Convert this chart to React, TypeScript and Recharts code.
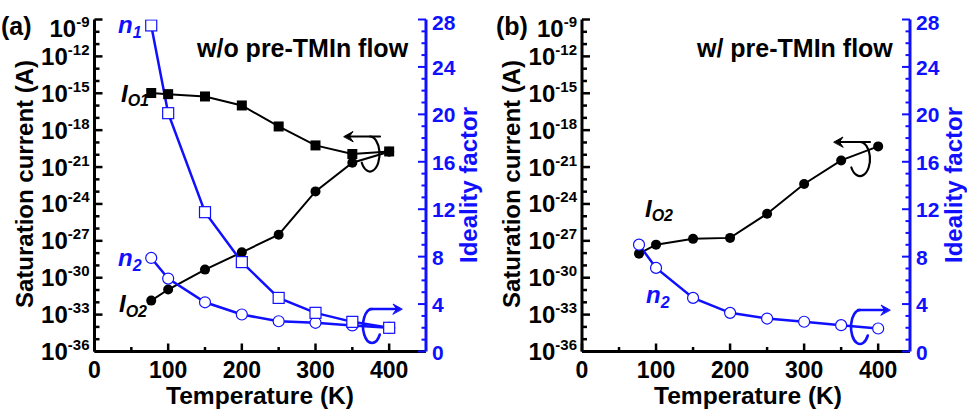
import React from 'react';
import { LineChart, Line, XAxis, YAxis } from 'recharts';

// ---- data (temperature in K) ----
const temperature = [77, 100, 150, 200, 250, 300, 350, 400];
// panel (a): w/o pre-TMIn flow
const io1A = [1.05e-15, 8.5e-16, 5.5e-16, 1.02e-16, 2.0e-18, 5.75e-20, 1.15e-20, 1.86e-20];
const io2A = [1.38e-32, 1.1e-31, 4.57e-30, 1.17e-28, 3.16e-27, 1.05e-23, 2.24e-21, 1.78e-20];
const n1A = [27.5, 20.1, 11.75, 7.54, 4.52, 3.26, 2.5, 2.0];
const n2A = [7.89, 6.15, 4.15, 3.12, 2.55, 2.42, 2.2, 2.0];
// panel (b): w/ pre-TMIn flow
const io2B = [9.1e-29, 4.9e-28, 1.45e-27, 1.74e-27, 1.62e-25, 4.17e-23, 3.47e-21, 4.79e-20];
const n2B = [9.01, 7.05, 4.52, 3.26, 2.78, 2.51, 2.22, 1.94];

// ---- ticks ----
const logTicks = [
  1e-36, 1e-35, 1e-34, 1e-33, 1e-32, 1e-31, 1e-30, 1e-29, 1e-28, 1e-27, 1e-26, 1e-25, 1e-24, 1e-23,
  1e-22, 1e-21, 1e-20, 1e-19, 1e-18, 1e-17, 1e-16, 1e-15, 1e-14, 1e-13, 1e-12, 1e-11, 1e-10, 1e-9,
];
const idealityTicks = [0, 1, 2, 3, 4, 5, 6, 7, 8, 9, 10, 11, 12, 13, 14, 15, 16, 17, 18, 19, 20, 21, 22, 23, 24, 25, 26, 27, 28];
const tempTicks = [0, 50, 100, 150, 200, 250, 300, 350, 400];

const BLUE = '#1010ff';
const FONT = '"Liberation Sans", Arial, Helvetica, sans-serif';

const dataA = temperature.map((t, i) => ({ t, io1: io1A[i], io2: io2A[i], n1: n1A[i], n2: n2A[i] }));
const dataB = temperature.map((t, i) => ({ t, io2: io2B[i], n2: n2B[i] }));

function LeftTick(props: any) {
  const { x, y, payload } = props;
  const e = Math.round(Math.log10(payload.value));
  const major = e % 3 === 0;
  const shift = e === -9 ? 9 : 0;
  return (
    <g>
      <line x1={x} x2={x + (major ? 8 : 5)} y1={y} y2={y} stroke="#000" strokeWidth={2.5} />
      {major && (
        <text x={x - 5} y={y + 8.5 + shift} textAnchor="end" fontFamily={FONT} fontWeight="bold" fill="#000">
          <tspan fontSize={24}>10</tspan>
          <tspan fontSize={15} dy={-10}>{String(e)}</tspan>
        </text>
      )}
    </g>
  );
}

function RightTick(props: any) {
  const { x, y, payload } = props;
  const v = payload.value;
  const major = v % 4 === 0;
  return (
    <g>
      <line x1={x} x2={x - (major ? 8 : 4.5)} y1={y} y2={y} stroke={BLUE} strokeWidth={2} />
      {major && (
        <text x={x + 6} y={y + 8 + (v === 28 ? 2 : 0)} textAnchor="start" fontFamily={FONT} fontWeight="bold" fontSize={21} fill={BLUE}>
          {v}
        </text>
      )}
    </g>
  );
}

function BottomTick(props: any) {
  const { x, y, payload } = props;
  const v = payload.value;
  const major = v % 100 === 0;
  return (
    <g>
      <line x1={x} x2={x} y1={y} y2={y - (major ? 8 : 4.5)} stroke="#000" strokeWidth={2.5} />
      {major && (
        <text x={x} y={y + 26} textAnchor="middle" fontFamily={FONT} fontWeight="bold" fontSize={23} fill="#000">
          {v}
        </text>
      )}
    </g>
  );
}

function TopTick(props: any) {
  const { x, y, payload } = props;
  const v = payload.value;
  const major = v % 100 === 0;
  return <line x1={x} x2={x} y1={y} y2={y + (major ? 8 : 4.5)} stroke="#000" strokeWidth={2.5} />;
}

const filledSquare = (p: any) => (
  <rect key={`fs-${p.index}`} x={p.cx - 5} y={p.cy - 5} width={10} height={10} fill="#000" />
);
const filledCircle = (p: any) => (
  <circle key={`fc-${p.index}`} cx={p.cx} cy={p.cy} r={5} fill="#000" />
);
const openSquare = (p: any) => (
  <rect key={`os-${p.index}`} x={p.cx - 5.5} y={p.cy - 5.5} width={11} height={11} fill="#fff" stroke={BLUE} strokeWidth={1.2} />
);
const openCircle = (p: any) => (
  <circle key={`oc-${p.index}`} cx={p.cx} cy={p.cy} r={5.5} fill="#fff" stroke={BLUE} strokeWidth={1.2} />
);

function loop(cx: number, cy: number, rx: number, ry: number, clockwise: boolean) {
  const endAng = clockwise ? (150 * Math.PI) / 180 : (30 * Math.PI) / 180;
  const ex = cx + rx * Math.cos(endAng);
  const ey = cy + ry * Math.sin(endAng);
  return `M ${cx} ${cy - ry} A ${rx} ${ry} 0 1 ${clockwise ? 1 : 0} ${ex} ${ey}`;
}

function LoopArrow({ cx, cy, rx, ry, dir, color, sw }: any) {
  const top = cy - ry;
  const clockwise = dir === 'left';
  const tipX = dir === 'left' ? cx - 26 : cx + 30;
  const startX = dir === 'left' ? cx + 10 : cx - 2;
  const back = dir === 'left' ? 9 : -9;
  return (
    <g fill="none" stroke={color} strokeWidth={sw} strokeLinecap="round">
      <path d={loop(cx, cy, rx, ry, clockwise)} />
      <line x1={startX} y1={top} x2={tipX + back * 0.4} y2={top} />
      <polygon points={`${tipX},${top} ${tipX + back},${top - 5} ${tipX + back * 0.6},${top} ${tipX + back},${top + 5}`} fill={color} stroke={color} strokeWidth={1} strokeLinejoin="round" />
    </g>
  );
}

const txt = { fontFamily: FONT, fontWeight: 'bold' as const };

function Overlay() {
  return (
    <svg width={967} height={420} style={{ position: 'absolute', left: 0, top: 0, pointerEvents: 'none' }}>
      {/* panel labels */}
      <text x={1} y={35} fontSize={25} {...txt}>(a)</text>
      <text x={496} y={35} fontSize={25} {...txt}>(b)</text>
      {/* axis titles */}
      <text x={260} y={404} fontSize={23} textAnchor="middle" textLength={188} lengthAdjust="spacingAndGlyphs" {...txt}>Temperature (K)</text>
      <text x={748} y={404} fontSize={23} textAnchor="middle" textLength={188} lengthAdjust="spacingAndGlyphs" {...txt}>Temperature (K)</text>
      <text transform="translate(33,184) rotate(-90)" fontSize={24} textAnchor="middle" {...txt}>Saturation current (A)</text>
      <text transform="translate(520,184) rotate(-90)" fontSize={24} textAnchor="middle" {...txt}>Saturation current (A)</text>
      <text transform="translate(477,185) rotate(-90)" fontSize={24} textAnchor="middle" fill={BLUE} {...txt}>Ideality factor</text>
      <text transform="translate(962,185) rotate(-90)" fontSize={24} textAnchor="middle" fill={BLUE} {...txt}>Ideality factor</text>
      {/* titles */}
      <text x={197} y={57} fontSize={25} {...txt}>w/o pre-TMIn flow</text>
      <text x={697} y={57} fontSize={25} {...txt}>w/ pre-TMIn flow</text>
      {/* series labels panel a */}
      <text x={118} y={33} fill={BLUE} fontStyle="italic" {...txt}>
        <tspan fontSize={24}>n</tspan><tspan fontSize={16} dy={5}>1</tspan>
      </text>
      <text x={121} y={102} fill="#000" fontStyle="italic" {...txt}>
        <tspan fontSize={24}>I</tspan><tspan fontSize={16} dy={4}>O1</tspan>
      </text>
      <text x={118} y={266} fill={BLUE} fontStyle="italic" {...txt}>
        <tspan fontSize={24}>n</tspan><tspan fontSize={16} dy={5}>2</tspan>
      </text>
      <text x={119} y={312} fill="#000" fontStyle="italic" {...txt}>
        <tspan fontSize={24}>I</tspan><tspan fontSize={16} dy={5}>O2</tspan>
      </text>
      {/* series labels panel b */}
      <text x={645} y={217} fill="#000" fontStyle="italic" {...txt}>
        <tspan fontSize={24}>I</tspan><tspan fontSize={16} dy={4}>O2</tspan>
      </text>
      <text x={646} y={303} fill={BLUE} fontStyle="italic" {...txt}>
        <tspan fontSize={24}>n</tspan><tspan fontSize={16} dy={5}>2</tspan>
      </text>
      {/* axis-pointing loop arrows */}
      <LoopArrow cx={370} cy={154} rx={9.5} ry={17.5} dir="left" color="#000" sw={2.2} />
      <LoopArrow cx={372} cy={326} rx={9} ry={17} dir="right" color={BLUE} sw={2.6} />
      <LoopArrow cx={860} cy={159} rx={10} ry={17} dir="left" color="#000" sw={2.2} />
      <LoopArrow cx={860} cy={327} rx={9} ry={17} dir="right" color={BLUE} sw={2.6} />
    </svg>
  );
}

function commonAxes(xMax: number, leftW: number, rightW: number) {
  return [
    <XAxis key="xb" dataKey="t" type="number" domain={[0, xMax]} ticks={tempTicks} interval={0} allowDataOverflow
      height={68.5} axisLine={{ stroke: '#000', strokeWidth: 3 }} tickLine={false} tickSize={0} tickMargin={0} tick={BottomTick} />,
    <XAxis key="xt" xAxisId="top" orientation="top" dataKey="t" type="number" domain={[0, xMax]} ticks={tempTicks} interval={0} allowDataOverflow
      height={0} axisLine={{ stroke: '#000', strokeWidth: 2.5 }} tickLine={false} tickSize={0} tickMargin={0} tick={TopTick} />,
    <YAxis key="yl" yAxisId="l" scale="log" type="number" domain={[1e-36, 1e-9]} ticks={logTicks} interval={0} allowDataOverflow
      width={leftW} axisLine={{ stroke: '#000', strokeWidth: 3 }} tickLine={false} tickSize={0} tickMargin={0} tick={LeftTick} />,
    <YAxis key="yr" yAxisId="r" orientation="right" type="number" domain={[0, 28]} ticks={idealityTicks} interval={0} allowDataOverflow
      width={rightW} axisLine={{ stroke: BLUE, strokeWidth: 3 }} tickLine={false} tickSize={0} tickMargin={0} tick={RightTick} />,
  ];
}

export default function App() {
  return (
    <div style={{ position: 'absolute', left: 0, top: 0, width: 967, height: 420, background: '#fff', overflow: 'hidden' }}>
      <div style={{ position: 'absolute', left: 0, top: 0 }}>
        <LineChart width={483} height={420} data={dataA} margin={{ top: 19.5, right: 0, bottom: 0, left: 0 }}>
          {commonAxes(450, 94.5, 57)}
          <Line yAxisId="l" dataKey="io2" stroke="#000" strokeWidth={2} dot={filledCircle} activeDot={false} isAnimationActive={false} />
          <Line yAxisId="l" dataKey="io1" stroke="#000" strokeWidth={2} dot={filledSquare} activeDot={false} isAnimationActive={false} />
          <Line yAxisId="r" dataKey="n2" stroke={BLUE} strokeWidth={2.5} dot={openCircle} activeDot={false} isAnimationActive={false} />
          <Line yAxisId="r" dataKey="n1" stroke={BLUE} strokeWidth={2.5} dot={openSquare} activeDot={false} isAnimationActive={false} />
        </LineChart>
      </div>
      <div style={{ position: 'absolute', left: 483, top: 0 }}>
        <LineChart width={484} height={420} data={dataB} margin={{ top: 19.5, right: 0, bottom: 0, left: 0 }}>
          {commonAxes(443, 99, 57)}
          <Line yAxisId="l" dataKey="io2" stroke="#000" strokeWidth={2} dot={filledCircle} activeDot={false} isAnimationActive={false} />
          <Line yAxisId="r" dataKey="n2" stroke={BLUE} strokeWidth={2.5} dot={openCircle} activeDot={false} isAnimationActive={false} />
        </LineChart>
      </div>
      <Overlay />
    </div>
  );
}
